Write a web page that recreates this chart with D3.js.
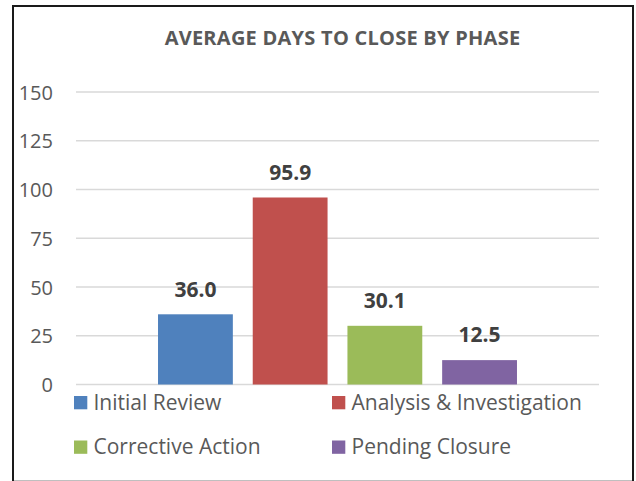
<!DOCTYPE html>
<html>
<head>
<meta charset="utf-8">
<script src="https://cdn.jsdelivr.net/npm/d3@7/dist/d3.min.js"></script>
<style>
  html, body { margin: 0; padding: 0; background: #fff; }
  svg { display: block; }
  text { font-family: "Open Sans", sans-serif; }
</style>
</head>
<body>
<svg id="chart" width="636" height="481"></svg>
<script>
const title = "AVERAGE DAYS TO CLOSE BY PHASE";
const phases = ["Initial Review", "Analysis & Investigation", "Corrective Action", "Pending Closure"];
const days = [36.0, 95.9, 30.1, 12.5];
const colors = ["#4F81BD", "#C0504D", "#9BBB59", "#8064A2"];
const yTicks = [0, 25, 50, 75, 100, 125, 150];

const svg = d3.select("#chart");

// frame
svg.append("rect").attr("x", 0).attr("y", 0).attr("width", 636).attr("height", 481).attr("fill", "#fff");
svg.append("line").attr("x1", 13).attr("x2", 633).attr("y1", 480.5).attr("y2", 480.5)
  .attr("stroke", "#bfbfbf").attr("stroke-width", 1);
svg.append("path")
  .attr("d", "M13,481 L13,6 L633,6 L633,481")
  .attr("fill", "none").attr("stroke", "#1a1a1a").attr("stroke-width", 2);

const plot = { left: 76, right: 599, top: 92, bottom: 384.5 };

const y = d3.scaleLinear().domain([0, 150]).range([plot.bottom, plot.top]);
const x = d3.scaleBand().domain(phases).range([plot.left, plot.right])
  .paddingInner(0.21).paddingOuter(0.866);

// gridlines
svg.append("g").selectAll("line").data(yTicks).join("line")
  .attr("x1", plot.left).attr("x2", plot.right)
  .attr("y1", d => y(d)).attr("y2", d => y(d))
  .attr("stroke", "#d9d9d9").attr("stroke-width", 1.5);

// y axis labels
const yAxis = d3.axisLeft(y).tickValues(yTicks).tickSize(0).tickPadding(0);
const ga = svg.append("g").attr("transform", `translate(53,0)`).call(yAxis);
ga.select(".domain").remove();
ga.selectAll("text")
  .attr("fill", "#595959")
  .style("font-family", "'Open Sans', sans-serif")
  .style("font-size", "20px")
  .attr("dy", "0.35em")
  .attr("x", 0);

// bars
svg.append("g").selectAll("rect").data(phases).join("rect")
  .attr("x", d => x(d))
  .attr("width", x.bandwidth())
  .attr("y", (d, i) => y(days[i]))
  .attr("height", (d, i) => y(0) - y(days[i]))
  .attr("fill", (d, i) => colors[i]);

// data labels
svg.append("g").selectAll("text").data(phases).join("text")
  .attr("x", d => x(d) + x.bandwidth() / 2)
  .attr("y", (d, i) => y(days[i]) - 17.7)
  .attr("text-anchor", "middle")
  .attr("fill", "#404040")
  .style("font-size", "21px")
  .style("font-weight", "bold")
  .text((d, i) => days[i].toFixed(1));

// title
svg.append("text")
  .attr("x", 342.5).attr("y", 45)
  .attr("text-anchor", "middle")
  .attr("fill", "#595959")
  .style("font-size", "20px")
  .style("font-weight", "bold")
  .style("letter-spacing", "0.25px")
  .text(title);

// legend
const legendPos = [[74, 396], [332, 396], [74, 440.5], [332, 440.5]];
const lg = svg.append("g").selectAll("g").data(phases).join("g")
  .attr("transform", (d, i) => `translate(${legendPos[i][0]},${legendPos[i][1]})`);
lg.append("rect").attr("width", 13.3).attr("height", 13.3).attr("fill", (d, i) => colors[i]);
lg.append("text").attr("x", 19.5).attr("y", 13.5)
  .attr("fill", "#595959")
  .style("font-size", "21px")
  .text(d => d);
</script>
</body>
</html>
